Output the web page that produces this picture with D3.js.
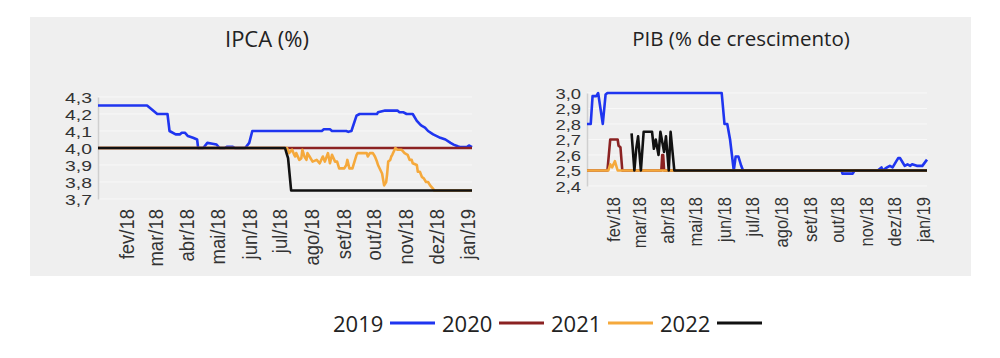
<!DOCTYPE html>
<html><head><meta charset="utf-8">
<script src="https://cdn.jsdelivr.net/npm/d3@7"></script>
<style>
html,body{margin:0;padding:0;background:#fff;}
svg{display:block;}
</style></head>
<body>
<svg id="chart" width="1000" height="358"></svg>
<script>
// ---------- DATA ----------
const monthLabels = ["fev/18","mar/18","abr/18","mai/18","jun/18","jul/18","ago/18","set/18","out/18","nov/18","dez/18","jan/19"];
const monthDates  = ["2018-02-01","2018-03-01","2018-04-01","2018-05-01","2018-06-01","2018-07-01","2018-08-01","2018-09-01","2018-10-01","2018-11-01","2018-12-01","2019-01-01"];
const dateDomain = ["2018-01-04","2019-01-05"];
const seriesNames = ["2019","2020","2021","2022"];
const seriesColors = ["#1f35f0","#8b2222","#f5a93c","#111111"];

const ipcaTicks = [3.7,3.8,3.9,4.0,4.1,4.2,4.3];
const pibTicks  = [2.4,2.5,2.6,2.7,2.8,2.9,3.0];

const ipca2019 = [["2018-01-04",4.25],["2018-02-21",4.25],["2018-03-03",4.2],["2018-03-13",4.2],["2018-03-15",4.1],["2018-03-21",4.08],["2018-03-25",4.08],["2018-03-27",4.09],["2018-03-30",4.09],["2018-04-02",4.07],["2018-04-07",4.06],["2018-04-11",4.05],["2018-04-12",4.0],["2018-04-17",4.0],["2018-04-21",4.03],["2018-04-26",4.025],["2018-04-30",4.02],["2018-05-03",4.0],["2018-05-08",4.0],["2018-05-10",4.007],["2018-05-16",4.007],["2018-05-18",4.0],["2018-05-28",4.0],["2018-06-01",4.03],["2018-06-04",4.1],["2018-08-11",4.1],["2018-08-13",4.11],["2018-08-19",4.11],["2018-08-21",4.1],["2018-09-04",4.1],["2018-09-06",4.095],["2018-09-09",4.1],["2018-09-14",4.19],["2018-09-17",4.2],["2018-10-04",4.2],["2018-10-05",4.21],["2018-10-12",4.22],["2018-10-24",4.22],["2018-10-26",4.21],["2018-10-30",4.21],["2018-11-02",4.2],["2018-11-08",4.2],["2018-11-12",4.16],["2018-11-15",4.14],["2018-11-17",4.13],["2018-11-20",4.12],["2018-11-23",4.1],["2018-11-28",4.08],["2018-12-05",4.06],["2018-12-10",4.05],["2018-12-15",4.03],["2018-12-18",4.02],["2018-12-22",4.01],["2018-12-24",4.006],["2018-12-31",4.006],["2019-01-02",4.015],["2019-01-05",4.005]];
const ipca2020 = [["2018-01-04",4.0],["2019-01-05",4.0]];
const ipca2021 = [["2018-01-04",4.0],["2018-07-08",4.0],["2018-07-10",3.97],["2018-07-13",3.99],["2018-07-15",3.96],["2018-07-16",3.95],["2018-07-17",3.97],["2018-07-20",3.93],["2018-07-22",3.94],["2018-07-23",3.99],["2018-07-25",3.95],["2018-07-27",3.93],["2018-07-28",3.97],["2018-07-30",3.95],["2018-08-02",3.92],["2018-08-06",3.93],["2018-08-09",3.91],["2018-08-12",3.95],["2018-08-14",3.92],["2018-08-17",3.97],["2018-08-19",3.91],["2018-08-21",3.96],["2018-08-24",3.92],["2018-08-26",3.92],["2018-08-28",3.88],["2018-09-02",3.88],["2018-09-04",3.9],["2018-09-05",3.93],["2018-09-07",3.88],["2018-09-10",3.88],["2018-09-14",3.96],["2018-09-15",3.97],["2018-09-24",3.97],["2018-09-25",3.95],["2018-09-27",3.97],["2018-09-30",3.97],["2018-10-02",3.95],["2018-10-04",3.92],["2018-10-05",3.9],["2018-10-09",3.85],["2018-10-11",3.78],["2018-10-13",3.8],["2018-10-14",3.85],["2018-10-15",3.92],["2018-10-17",3.93],["2018-10-18",3.95],["2018-10-19",3.96],["2018-10-22",4.0],["2018-10-24",3.99],["2018-10-28",3.99],["2018-10-31",3.97],["2018-11-03",3.96],["2018-11-05",3.93],["2018-11-07",3.93],["2018-11-08",3.91],["2018-11-12",3.9],["2018-11-13",3.86],["2018-11-15",3.86],["2018-11-17",3.83],["2018-11-19",3.82],["2018-11-21",3.8],["2018-11-23",3.8],["2018-11-25",3.78],["2018-11-28",3.76],["2018-11-29",3.75],["2019-01-05",3.75]];
const ipca2022 = [["2018-01-04",4.0],["2018-07-06",4.0],["2018-07-08",3.96],["2018-07-09",3.94],["2018-07-12",3.75],["2019-01-05",3.75]];

const pib2019 = [["2018-01-04",2.8],["2018-01-08",2.8],["2018-01-10",2.98],["2018-01-14",2.98],["2018-01-16",3.0],["2018-01-21",2.8],["2018-01-24",2.99],["2018-01-26",3.0],["2018-05-29",3.0],["2018-06-01",2.8],["2018-06-04",2.8],["2018-06-07",2.7],["2018-06-09",2.6],["2018-06-11",2.5],["2018-06-13",2.59],["2018-06-16",2.59],["2018-06-18",2.55],["2018-06-19",2.53],["2018-06-21",2.5],["2018-10-05",2.5],["2018-10-06",2.48],["2018-10-17",2.48],["2018-10-19",2.5],["2018-11-13",2.5],["2018-11-15",2.51],["2018-11-17",2.52],["2018-11-18",2.5],["2018-11-23",2.52],["2018-11-26",2.53],["2018-11-29",2.52],["2018-12-03",2.56],["2018-12-05",2.58],["2018-12-07",2.58],["2018-12-10",2.55],["2018-12-12",2.53],["2018-12-15",2.54],["2018-12-18",2.53],["2018-12-20",2.54],["2018-12-25",2.53],["2018-12-31",2.53],["2019-01-05",2.57]];
const pib2020 = [["2018-01-04",2.5],["2018-01-26",2.5],["2018-01-29",2.7],["2018-02-06",2.7],["2018-02-07",2.66],["2018-02-09",2.65],["2018-02-11",2.5],["2018-03-25",2.5],["2018-03-26",2.6],["2018-03-27",2.6],["2018-03-28",2.5],["2019-01-05",2.5]];
const pib2021 = [["2018-01-04",2.5],["2018-01-27",2.5],["2018-01-29",2.54],["2018-01-31",2.52],["2018-02-03",2.56],["2018-02-06",2.5],["2019-01-05",2.5]];
const pib2022 = [["2018-02-21",2.74],["2018-02-24",2.5],["2018-02-26",2.64],["2018-02-28",2.72],["2018-03-03",2.5],["2018-03-06",2.75],["2018-03-15",2.75],["2018-03-17",2.64],["2018-03-19",2.7],["2018-03-22",2.6],["2018-03-24",2.75],["2018-03-28",2.62],["2018-03-30",2.72],["2018-04-02",2.5],["2018-04-04",2.75],["2018-04-08",2.5],["2019-01-05",2.5]];

// ---------- DRAW ----------
const parse = d3.timeParse("%Y-%m-%d");
const fmt = v => d3.format(".1f")(v).replace(".", ",");
const svg = d3.select("#chart");

svg.append("rect").attr("x",30).attr("y",17).attr("width",941).attr("height",259).attr("fill","#efefef");

function panel(cfg) {
  const x = d3.scaleTime().domain(dateDomain.map(parse)).range([cfg.x0, cfg.x1]);
  const y = d3.scaleLinear().domain([cfg.ticks[0], cfg.ticks[cfg.ticks.length-1]]).range([cfg.yb, cfg.yt]);
  const g = svg.append("g");

  // title
  g.append("text").attr("x", cfg.tx).attr("y", cfg.ty).attr("text-anchor","middle")
    .attr("font-family","'Open Sans', sans-serif").attr("font-size",cfg.tfs).attr("fill","#222").text(cfg.title);

  // grid
  g.append("g").selectAll("line").data(cfg.ticks).join("line")
    .attr("x1", cfg.x0).attr("x2", cfg.x1).attr("y1", d=>y(d)).attr("y2", d=>y(d))
    .attr("stroke","#f8f8f8").attr("stroke-width",1);

  // y axis
  const ya = g.append("g").attr("transform",`translate(${cfg.x0},0)`)
    .call(d3.axisLeft(y).tickValues(cfg.ticks).tickFormat(fmt).tickSize(0).tickPadding(0));
  ya.select(".domain").attr("stroke","#cfcfcf").attr("stroke-width",1.5);
  ya.selectAll("text").attr("x",0).attr("dy","0.36em")
    .attr("transform",`translate(-6,0) scale(${cfg.sx},1)`)
    .attr("font-family","'Liberation Sans', Arial, sans-serif").attr("font-size",cfg.yfs).attr("fill","#333");

  // x axis
  const xa = g.append("g").attr("transform",`translate(0,${cfg.yb})`)
    .call(d3.axisBottom(x).tickValues(monthDates.map(parse)).tickFormat((d,i)=>monthLabels[i]).tickSize(0).tickPadding(0));
  xa.select(".domain").remove();
  xa.selectAll("text").attr("x",0).attr("y",0).attr("dy","0.33em")
    .attr("text-anchor","end")
    .attr("transform",`translate(0,${cfg.xoff}) rotate(-90) scale(1,1.12)`)
    .attr("font-family","'Liberation Sans', Arial, sans-serif").attr("font-size",cfg.xfs).attr("fill","#333");

  // lines
  const line = d3.line().x(d=>x(parse(d[0]))).y(d=>y(d[1]));
  cfg.series.forEach((s,i)=>{
    g.append("path").datum(s).attr("d", line).attr("fill","none")
      .attr("stroke", seriesColors[i]).attr("stroke-width", 2.6)
      .attr("stroke-linejoin","round");
  });
}

panel({title:"IPCA (%)", tx:267, ty:47, tfs:22, x0:98, x1:472, yt:97, yb:199, ticks:ipcaTicks,
  yfs:15.5, sx:1.25, xfs:18.5, xoff:10, series:[ipca2019, ipca2020, ipca2021, ipca2022]});
panel({title:"PIB (% de crescimento)", tx:741, ty:46, tfs:20.5, x0:587, x1:927, yt:93, yb:186, ticks:pibTicks,
  yfs:14.5, sx:1.27, xfs:16.5, xoff:11, series:[pib2019, pib2020, pib2021, pib2022]});

// legend
const lg = svg.append("g");
seriesNames.forEach((n,i)=>{
  const x0 = 333 + i*109;
  lg.append("text").attr("x",x0).attr("y",332).attr("font-family","'Open Sans', sans-serif")
    .attr("font-size",22).attr("fill","#222").text(n);
  lg.append("line").attr("x1",x0+57).attr("x2",x0+102).attr("y1",323).attr("y2",323)
    .attr("stroke",seriesColors[i]).attr("stroke-width",3);
});
</script>
</body></html>
